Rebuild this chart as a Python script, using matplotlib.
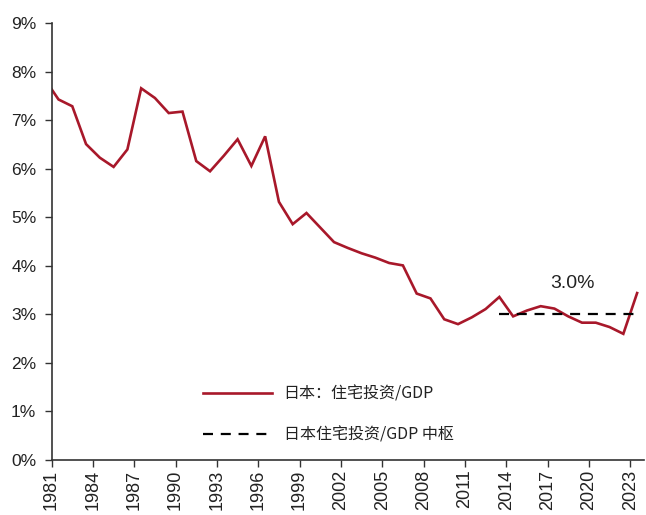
import numpy as np
import matplotlib
matplotlib.use('Agg')
import matplotlib.pyplot as plt

# Japan residential investment / GDP (%)
years = np.arange(1980, 2024)
invest_gdp = [7.85, 7.43, 7.29, 6.51, 6.23, 6.04, 6.40, 7.66, 7.46, 7.15,
              7.18, 6.16, 5.95, 6.27, 6.61, 6.06, 6.67, 5.32, 4.86, 5.09,
              4.79, 4.49, 4.37, 4.26, 4.17, 4.06, 4.01, 3.43, 3.33, 2.90,
              2.80, 2.94, 3.11, 3.36, 2.96, 3.08, 3.17, 3.12, 2.96, 2.83,
              2.83, 2.74, 2.60, 3.44]

# central level 2013-2023
center_years = np.arange(2013, 2024)
center_value = 3.0

tick_years = np.arange(1981, 2024, 3)
yticks = np.arange(0, 10)

label_main = '日本：住宅投资/GDP'
label_center = '日本住宅投资/GDP 中枢'

fig = plt.figure(figsize=(6.46, 5.15), dpi=100)
ax = fig.add_axes([0.0799, 0.1068, 0.917, 0.848])

# points sit in the middle of each year slot
ax.plot(years + 0.5, invest_gdp, color='#A8182A', lw=1.9, label=label_main,
        solid_joinstyle='miter')
ax.plot(center_years + 0.5, [center_value] * len(center_years), color='black',
        lw=1.6, ls=(0, (4.5, 3.5)), label=label_center)

ax.text(2018.8, 3.64, f'{center_value:.1f}%', fontsize=14,
        family='Liberation Sans', color='#222222', ha='center', va='center')

ax.set_xlim(1981, 2024)
ax.set_ylim(0, 9)
ax.set_xticks(tick_years)
ax.set_xticklabels([str(y) for y in tick_years], rotation=90,
                   family='Liberation Sans', fontsize=13, color='#222222')
ax.set_yticks(yticks)
ax.set_yticklabels([f'{v}%' for v in yticks], family='Liberation Sans',
                   fontsize=12.5, color='#222222')

for side in ['top', 'right']:
    ax.spines[side].set_visible(False)
for side in ['left', 'bottom']:
    ax.spines[side].set_linewidth(1.2)
    ax.spines[side].set_color('#333333')
ax.tick_params(axis='y', direction='out', length=5, width=1, pad=6,
               color='#333333')
ax.tick_params(axis='x', direction='out', length=5, width=1, pad=2,
               color='#333333')

leg = ax.legend(loc='upper left', bbox_to_anchor=(0.314, 0.252),
                bbox_transform=fig.transFigure, frameon=False,
                prop={'family': ['Noto Sans CJK SC', 'DejaVu Sans'], 'size': 11.5},
                handlelength=4.3, handletextpad=0.75, labelspacing=1.5,
                borderpad=0, borderaxespad=0)
for t in leg.get_texts():
    t.set_color('#222222')

fig.savefig('out.png', dpi=100)
